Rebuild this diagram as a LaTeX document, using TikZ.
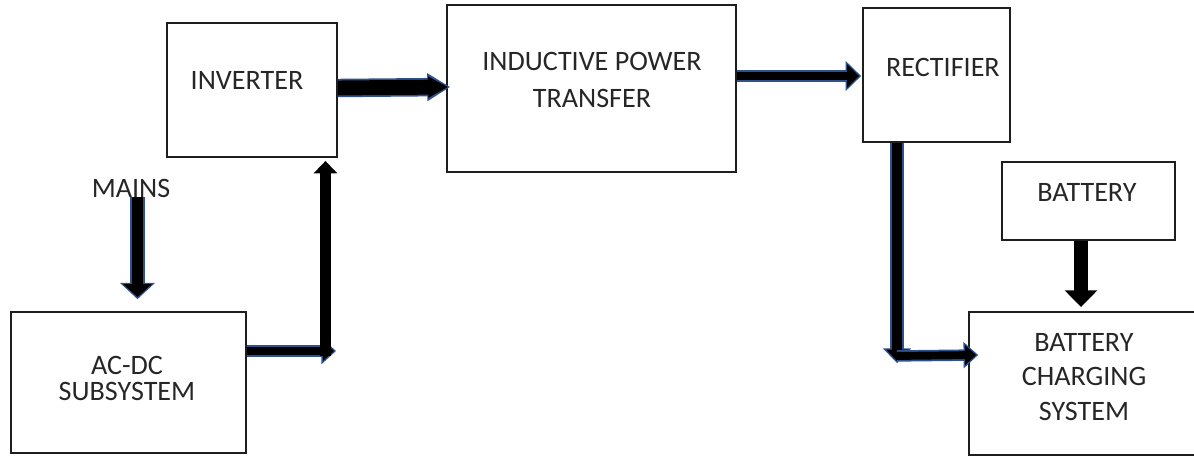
\documentclass[tikz,border=0pt]{standalone}
\usepackage{fontspec}
\setmainfont{Carlito}
\usetikzlibrary{arrows.meta,calc}
\definecolor{arrblue}{RGB}{47,82,143}
\definecolor{boxline}{RGB}{30,30,30}
\tikzset{
  box/.style={draw=boxline, line width=1.1pt, minimum width=#1, inner sep=0pt},
  lbl/.style={font=\fontsize{16}{20}\selectfont, align=center, inner sep=0pt, text=black!85},
  outl/.style={draw=arrblue},
  core/.style={draw=black},
}
\begin{document}
\begin{tikzpicture}[x=0.02cm,y=-0.02cm]
\useasboundingbox (0,0) rectangle (1194,457);
% boxes
\node[box=3.4cm, minimum height=2.68cm] (inv) at (252,90) {};
\node[box=5.78cm, minimum height=3.34cm] (ipt) at (591.5,88.5) {};
\node[box=2.94cm, minimum height=2.68cm] (rec) at (936.5,75) {};
\node[box=3.46cm, minimum height=1.56cm] (bat) at (1088.5,201) {};
\node[box=4.6cm, minimum height=2.86cm] (bcs) at (1084,383.5) {};
\node[box=4.7cm, minimum height=2.82cm] (acdc) at (128.5,382.5) {};
% texts
\node[lbl] (tinv) at (247,80) {INVERTER};
\node[lbl, font=\fontsize{16}{21}\selectfont] (tipt) at (592,80) {INDUCTIVE POWER\\TRANSFER};
\node[lbl] (trec) at (943,67) {RECTIFIER};
\node[lbl] (tbat) at (1087,192) {BATTERY};
\node[lbl, font=\fontsize{16}{19.8}\selectfont] (tbcs) at (1084,377) {BATTERY\\CHARGING\\SYSTEM};
\node[lbl, font=\fontsize{16}{15.3}\selectfont] (tacdc) at (127,378.5) {AC-DC\\SUBSYSTEM};
\node[lbl] (mains) at (131,188) {MAINS};
% inverter -> IPT
\draw[outl, line width=10.5pt, -{Triangle[length=13pt,width=15pt]}, shorten >=-1.2pt]
  ($(inv.east)+(0,-2)$) -- ($(ipt.west)+(2,-1.5)$);
\draw[core, line width=8.5pt, -{Triangle[length=11.3pt,width=11.3pt]}]
  ($(inv.east)+(0,-2)$) -- ($(ipt.west)+(2,-1.5)$);
% IPT -> rectifier
\draw[outl, line width=6.5pt, -{Triangle[length=8.8pt,width=16.5pt]}, shorten >=-1.2pt]
  ($(ipt.east)+(0,-12.5)$) -- ($(rec.west)+(-3,1)$);
\draw[core, line width=4.5pt, -{Triangle[length=6.8pt,width=13pt]}]
  ($(ipt.east)+(0,-12.5)$) -- ($(rec.west)+(-3,1)$);
% AC-DC -> right
\draw[outl, line width=6.5pt, -{Triangle[length=8.3pt,width=14.5pt]}, shorten >=-1.2pt]
  ($(acdc.east)+(0,-31.5)$) -- ($(inv.east |- acdc.east)+(-4,-31.5)$);
\draw[core, line width=4.5pt, -{Triangle[length=6.3pt,width=11pt]}]
  ($(acdc.east)+(0,-31.5)$) -- ($(inv.east |- acdc.east)+(-4,-31.5)$);
% up to inverter
\draw[core, line width=6.2pt, -{Triangle[length=7pt,width=13pt]}]
  ($(inv.south east)+(-12.5,198)$) -- ($(inv.south east)+(-12.5,3)$);
% mains -> AC-DC
\draw[outl, line width=8.8pt, -{Triangle[length=9.3pt,width=19.5pt]}, shorten >=-1.2pt]
  ($(acdc.north)+(9,-114)$) -- ($(acdc.north)+(9,-14)$);
\draw[core, line width=6.8pt, -{Triangle[length=7.4pt,width=16pt]}]
  ($(acdc.north)+(9,-114)$) -- ($(acdc.north)+(9,-14)$);
% rectifier down
\draw[outl, line width=8.2pt, -{Triangle[length=8.3pt,width=15.5pt]}, shorten >=-1.2pt]
  ($(rec.south)+(-39.5,0)$) -- ($(rec.south)+(-39.5,218)$);
\draw[core, line width=6.2pt, -{Triangle[length=6.5pt,width=12pt]}]
  ($(rec.south)+(-39.5,0)$) -- ($(rec.south)+(-39.5,218)$);
% across to BCS
\draw[outl, line width=6.5pt, -{Triangle[length=8.3pt,width=14.5pt]}, shorten >=-1.2pt]
  ($(rec.south)+(-39.5,213)$) -- ($(bcs.west)+(8,-28.5)$);
\draw[core, line width=4.5pt, -{Triangle[length=6.3pt,width=11pt]}]
  ($(rec.south)+(-39.5,213)$) -- ($(bcs.west)+(8,-28.5)$);
% battery -> BCS
\draw[core, line width=8.5pt, -{Triangle[length=9.5pt,width=18pt]}]
  ($(bat.south)+(-7.5,0)$) -- ($(bcs.north)+(-3,-4)$);
\end{tikzpicture}
\end{document}
